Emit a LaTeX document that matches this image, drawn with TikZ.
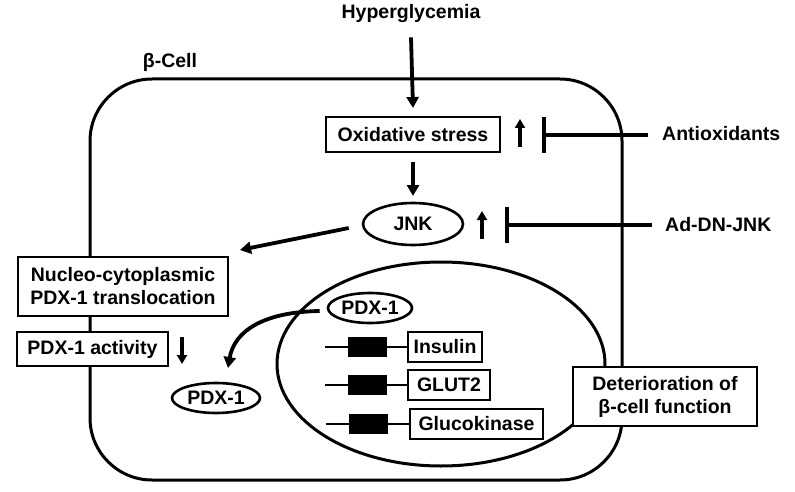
\documentclass[tikz,border=0pt]{standalone}
\usepackage{fontspec}
\setmainfont{Liberation Sans}
\usetikzlibrary{arrows.meta,shapes.geometric}
\tikzset{
  txt/.style={font=\bfseries\fontsize{19.5}{23}\selectfont, inner sep=0pt},
  boxed/.style={txt, draw, line width=2.6pt, fill=white, align=center},
  oval/.style={txt, draw, ellipse, line width=2.6pt, fill=white, inner sep=0pt},
  genebar/.style={fill=black, draw=none, minimum width=39pt, minimum height=20pt, inner sep=0pt},
  arr/.style={line width=3.8pt, -{Triangle[length=11pt,width=12pt]}},
  smallarr/.style={line width=3.4pt, -{Triangle[length=9pt,width=10pt]}},
  inh/.style={line width=3.2pt, -{Bar[width=36pt,line width=3.6pt]}},
  cellline/.style={line width=3pt},
}
\begin{document}
\begin{tikzpicture}[x=1pt,y=-1pt]
\useasboundingbox (0,0) rectangle (795,492);
\fill[white] (0,0) rectangle (795,492);
% cell membrane
\draw[cellline, rounded corners=62pt] (90,79) rectangle (622,480);
% nucleus
\draw[cellline] (441,364) ellipse [x radius=164, y radius=102];
\node[txt] (bcell) at (170,62) {β-Cell};
% top chain
\node[txt] (hyper) at (411,14) {Hyperglycemia};
\node[boxed, minimum width=174pt, minimum height=35pt] (ox) at (413,134.5) {Oxidative stress};
\node[oval, minimum width=100pt, minimum height=42pt] (jnk) at (413,224) {JNK};
\draw[arr] (hyper.south) ++(0,14) coordinate (h1) -- (ox.north |- 0,108);
\coordinate (oxs) at (413,162);
\coordinate (jnkn) at (413,196);
\draw[arr] (oxs) -- (jnkn);
% up arrows
\coordinate (u1a) at (520,147); \coordinate (u1b) at (520,119);
\draw[smallarr] (u1a) -- (u1b);
\coordinate (u2a) at (482,239); \coordinate (u2b) at (482,211);
\draw[smallarr] (u2a) -- (u2b);
% inhibitors
\node[txt, anchor=west] (antiox) at (662,134) {Antioxidants};
\node[txt, anchor=west] (adn) at (665,225) {Ad-DN-JNK};
\coordinate (b1) at (542,135);
\coordinate (b2) at (505,225);
\draw[inh] (648,135) -- (b1);
\draw[inh] (652,225) -- (b2);
% cytoplasm
\node[boxed, minimum width=210pt, minimum height=59pt] (nuc) at (123,286.5) {Nucleo-cytoplasmic\\PDX-1 translocation};
\node[boxed, minimum width=151pt, minimum height=34pt] (act) at (92.5,349) {PDX-1 activity};
\coordinate (d1a) at (182,337); \coordinate (d1b) at (182,364);
\draw[smallarr] (d1a) -- (d1b);
\coordinate (jt) at (240,250);
\draw[arr] (jnk.west) ++(-13,4) -- (jt);
\node[oval, minimum width=84pt, minimum height=30pt] (pdxn) at (370,308) {PDX-1};
\node[oval, minimum width=88pt, minimum height=30pt] (pdxc) at (216,398) {PDX-1};
\coordinate (ct) at (228,368);
\draw[arr] (pdxn.west) ++(-7,3) .. controls (262,312) and (234,332) .. (ct);
% genes
\node[boxed, minimum width=74pt, minimum height=30pt] (ins) at (445,347) {Insulin};
\node[boxed, minimum width=82pt, minimum height=30pt] (glut) at (449,385) {GLUT2};
\node[boxed, minimum width=133pt, minimum height=30pt] (gck) at (476.5,424) {Glucokinase};
\coordinate (g1) at (325,347);
\coordinate (g2) at (325,385);
\coordinate (g3) at (326,424);
\draw[line width=2.8pt] (g1) -- (ins.west);
\draw[line width=2.8pt] (g2) -- (glut.west);
\draw[line width=2.8pt] (g3) -- (gck.west);
\node[genebar] (r1) at (367.5,347) {};
\node[genebar] (r2) at (367.5,385) {};
\node[genebar] (r3) at (368.5,424) {};
% deterioration
\node[boxed, minimum width=184pt, minimum height=59pt] (det) at (665,396.5) {Deterioration of\\β-cell function};
\end{tikzpicture}
\end{document}
